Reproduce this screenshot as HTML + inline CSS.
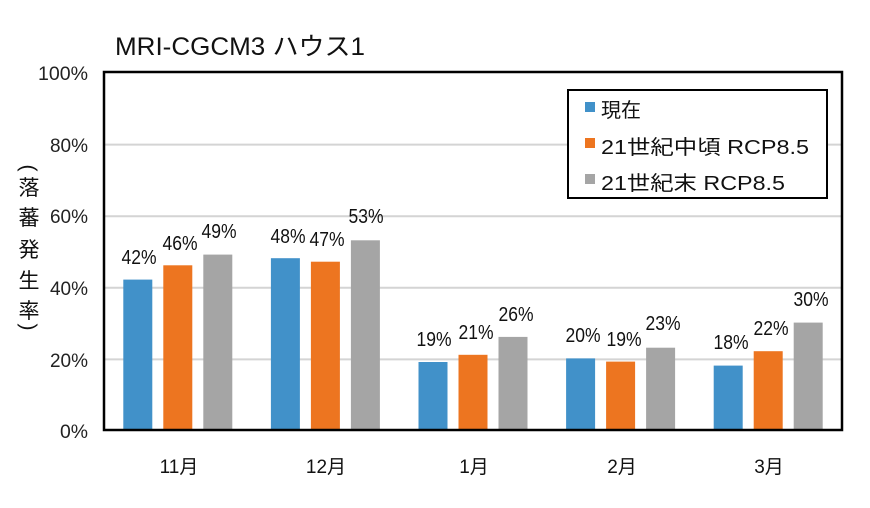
<!DOCTYPE html>
<html><head><meta charset="utf-8"><style>body{margin:0;background:#fff}</style></head><body>
<svg width="870" height="503" xmlns="http://www.w3.org/2000/svg" font-family="'Liberation Sans','Noto Sans CJK JP',sans-serif">
<rect width="870" height="503" fill="#fff"/>
<text x="115" y="55" font-size="25" fill="#111" textLength="250" lengthAdjust="spacingAndGlyphs">MRI-CGCM3 ハウス1</text>
<g stroke="#d4d4d4" stroke-width="2">
<line x1="104" y1="144.6" x2="842" y2="144.6"/><line x1="104" y1="216.2" x2="842" y2="216.2"/><line x1="104" y1="287.8" x2="842" y2="287.8"/><line x1="104" y1="359.4" x2="842" y2="359.4"/>
</g>
<g font-size="19" fill="#222" text-anchor="end">
<text x="88" y="80" textLength="50" lengthAdjust="spacingAndGlyphs">100%</text>
<text x="88" y="152" textLength="38" lengthAdjust="spacingAndGlyphs">80%</text>
<text x="88" y="223" textLength="38" lengthAdjust="spacingAndGlyphs">60%</text>
<text x="88" y="295" textLength="38" lengthAdjust="spacingAndGlyphs">40%</text>
<text x="88" y="367" textLength="38" lengthAdjust="spacingAndGlyphs">20%</text>
<text x="88" y="438" textLength="28" lengthAdjust="spacingAndGlyphs">0%</text>
</g>
<g font-size="21" fill="#111" text-anchor="middle">
<text x="29" y="175" transform="rotate(90 29 168)">(</text>
<text x="29" y="195">落</text><text x="29" y="225">蕃</text><text x="29" y="257">発</text><text x="29" y="288">生</text><text x="29" y="318">率</text>
<text x="29" y="334" transform="rotate(90 29 327)">)</text>
</g>
<rect x="123.3" y="279.6" width="29" height="150.4" fill="#4191c9"/>
<rect x="163.3" y="265.3" width="29" height="164.7" fill="#ed7520"/>
<rect x="203.3" y="254.6" width="29" height="175.4" fill="#a5a5a5"/>
<rect x="270.9" y="258.2" width="29" height="171.8" fill="#4191c9"/>
<rect x="310.9" y="261.7" width="29" height="168.3" fill="#ed7520"/>
<rect x="350.9" y="240.3" width="29" height="189.7" fill="#a5a5a5"/>
<rect x="418.5" y="362" width="29" height="68" fill="#4191c9"/>
<rect x="458.5" y="354.8" width="29" height="75.2" fill="#ed7520"/>
<rect x="498.5" y="336.9" width="29" height="93.1" fill="#a5a5a5"/>
<rect x="566.1" y="358.4" width="29" height="71.6" fill="#4191c9"/>
<rect x="606.1" y="361.6" width="29" height="68.4" fill="#ed7520"/>
<rect x="646.1" y="347.7" width="29" height="82.3" fill="#a5a5a5"/>
<rect x="713.7" y="365.6" width="29" height="64.4" fill="#4191c9"/>
<rect x="753.7" y="351.2" width="29" height="78.8" fill="#ed7520"/>
<rect x="793.7" y="322.6" width="29" height="107.4" fill="#a5a5a5"/>
<g font-size="20" fill="#111" text-anchor="middle">
<text x="139" y="264" textLength="35" lengthAdjust="spacingAndGlyphs">42%</text>
<text x="180" y="250" textLength="35" lengthAdjust="spacingAndGlyphs">46%</text>
<text x="219" y="238" textLength="35" lengthAdjust="spacingAndGlyphs">49%</text>
<text x="288" y="243" textLength="35" lengthAdjust="spacingAndGlyphs">48%</text>
<text x="327" y="246" textLength="35" lengthAdjust="spacingAndGlyphs">47%</text>
<text x="366" y="223" textLength="35" lengthAdjust="spacingAndGlyphs">53%</text>
<text x="434" y="346" textLength="35" lengthAdjust="spacingAndGlyphs">19%</text>
<text x="476" y="339" textLength="35" lengthAdjust="spacingAndGlyphs">21%</text>
<text x="516" y="321" textLength="35" lengthAdjust="spacingAndGlyphs">26%</text>
<text x="583" y="342" textLength="35" lengthAdjust="spacingAndGlyphs">20%</text>
<text x="624" y="346" textLength="35" lengthAdjust="spacingAndGlyphs">19%</text>
<text x="663" y="330" textLength="35" lengthAdjust="spacingAndGlyphs">23%</text>
<text x="731" y="349" textLength="35" lengthAdjust="spacingAndGlyphs">18%</text>
<text x="771" y="335" textLength="35" lengthAdjust="spacingAndGlyphs">22%</text>
<text x="811" y="306" textLength="35" lengthAdjust="spacingAndGlyphs">30%</text>
</g>
<rect x="104" y="72" width="738" height="358" fill="none" stroke="#000" stroke-width="2.5"/>
<rect x="568" y="90" width="259" height="108" fill="#fff" stroke="#000" stroke-width="2"/>
<rect x="585" y="102" width="10" height="10" fill="#4191c9"/>
<rect x="585" y="138" width="10" height="10" fill="#ed7520"/>
<rect x="585" y="174" width="10" height="10" fill="#a5a5a5"/>
<g font-size="20" fill="#111">
<text x="601" y="117">現在</text>
<text x="601" y="154" textLength="208" lengthAdjust="spacingAndGlyphs">21世紀中頃 RCP8.5</text>
<text x="601" y="190" textLength="184" lengthAdjust="spacingAndGlyphs">21世紀末 RCP8.5</text>
</g>
<g font-size="19" fill="#111" text-anchor="middle">
<text x="179" y="473">11月</text><text x="326" y="473">12月</text><text x="474" y="473">1月</text><text x="622" y="473">2月</text><text x="769" y="473">3月</text>
</g>
</svg>
</body></html>
